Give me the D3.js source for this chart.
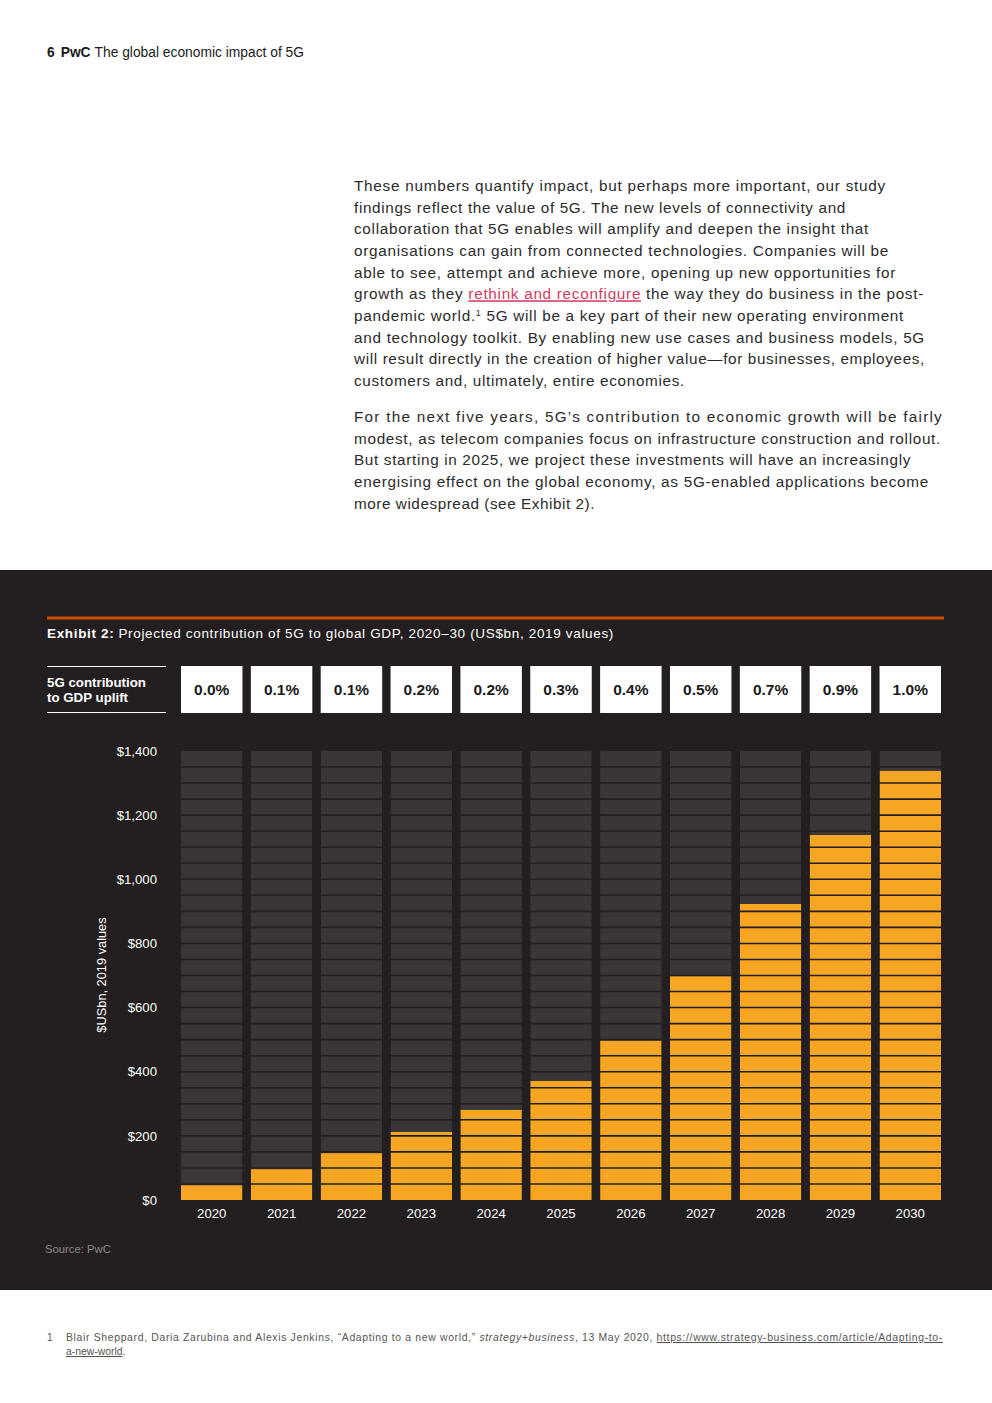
<!DOCTYPE html>
<html>
<head>
<meta charset="utf-8">
<script src="https://cdn.jsdelivr.net/npm/d3@7"></script>
<style>
  body { margin: 0; background: #fff; }
  svg { display: block; font-family: "Liberation Sans", Arial, sans-serif; }
</style>
</head>
<body>
<svg id="page" width="992" height="1403"></svg>
<script>
// chart data
const years = ["2020", "2021", "2022", "2023", "2024", "2025", "2026", "2027", "2028", "2029", "2030"];
const gdpValues = [46, 96, 146, 212, 281, 371, 497, 698, 923, 1138, 1338];
const upliftPct = ["0.0%", "0.1%", "0.1%", "0.2%", "0.2%", "0.3%", "0.4%", "0.5%", "0.7%", "0.9%", "1.0%"];
const yTicks = [0, 200, 400, 600, 800, 1000, 1200, 1400];

// body copy, one entry per printed line; target right edge of each line
const para1 = [
  ["These numbers quantify impact, but perhaps more important, our study", 886],
  ["findings reflect the value of 5G. The new levels of connectivity and", 846],
  ["collaboration that 5G enables will amplify and deepen the insight that", 869],
  ["organisations can gain from connected technologies. Companies will be", 889],
  ["able to see, attempt and achieve more, opening up new opportunities for", 896],
  ["growth as they |rethink and reconfigure| the way they do business in the post-", 924],
  ["pandemic world.^1^ 5G will be a key part of their new operating environment", 904],
  ["and technology toolkit. By enabling new use cases and business models, 5G", 925],
  ["will result directly in the creation of higher value\u2014for businesses, employees,", 925],
  ["customers and, ultimately, entire economies.", 685]
];
const para2 = [
  ["For the next five years, 5G\u2019s contribution to economic growth will be fairly", 943],
  ["modest, as telecom companies focus on infrastructure construction and rollout.", 941],
  ["But starting in 2025, we project these investments will have an increasingly", 911],
  ["energising effect on the global economy, as 5G-enabled applications become", 929],
  ["more widespread (see Exhibit 2).", 595]
];

const svg = d3.select("#page");
const panelColor = "#231f20";
const barBack = "#3a3637";
const barFill = "#f6a623";

// stretch a text element so it ends at xEnd
function fitTo(sel, x0, xEnd) {
  const natural = sel.node().getComputedTextLength();
  const n = sel.text().length;
  sel.attr("letter-spacing", ((xEnd - x0 - natural) / n).toFixed(3));
}

// ---- header
const head = svg.append("text").attr("x", 47).attr("y", 57)
  .attr("font-size", 13.8).attr("fill", "#1a1a1a");
head.append("tspan").attr("font-weight", "bold").text("6");
head.append("tspan").attr("dx", 6).attr("font-weight", "bold").text("PwC");
head.append("tspan").attr("dx", 4).text("The global economic impact of 5G");

// ---- body text
function writeLines(lines, y0) {
  lines.forEach((ln, i) => {
    const t = svg.append("text").attr("x", 354).attr("y", y0 + i * 21.65)
      .attr("font-size", 15.3).attr("fill", "#2b2b2b");
    // split link (|..|) and superscript (^..^) parts
    const parts = ln[0].split(/(\|[^|]*\||\^[^^]*\^)/).filter(s => s.length);
    parts.forEach(p => {
      if (p[0] === "|") {
        t.append("tspan").attr("fill", "#d23c62").attr("text-decoration", "underline")
          .text(p.slice(1, -1));
      } else if (p[0] === "^") {
        t.append("tspan").attr("font-size", 9).attr("baseline-shift", "super").text(p.slice(1, -1));
      } else {
        t.append("tspan").text(p);
      }
    });
    fitTo(t, 354, ln[1]);
  });
}
writeLines(para1, 191);
writeLines(para2, 422);

// ---- dark panel
svg.append("rect").attr("x", 0).attr("y", 570).attr("width", 992).attr("height", 720)
  .attr("fill", panelColor);
svg.append("rect").attr("x", 47).attr("y", 616.5).attr("width", 897).attr("height", 3)
  .attr("fill", "#d04a02");

const title = svg.append("text").attr("x", 47).attr("y", 638)
  .attr("font-size", 13.5).attr("fill", "#fff");
title.append("tspan").attr("font-weight", "bold").text("Exhibit 2:");
title.append("tspan").attr("dx", 4)
  .text("Projected contribution of 5G to global GDP, 2020\u201330 (US$bn, 2019 values)");
fitTo(title, 51, 614);

// ---- scales
const x = d3.scaleBand().domain(years).range([181, 941]).paddingInner(0.12).paddingOuter(0);
const y = d3.scaleLinear().domain([0, 1400]).range([1200, 751]);

// ---- uplift row
svg.append("line").attr("x1", 47).attr("x2", 166).attr("y1", 666.5).attr("y2", 666.5)
  .attr("stroke", "#fff").attr("stroke-width", 1);
svg.append("line").attr("x1", 47).attr("x2", 166).attr("y1", 712.5).attr("y2", 712.5)
  .attr("stroke", "#fff").attr("stroke-width", 1);
const lab = svg.append("text").attr("font-size", 13.3).attr("font-weight", "bold").attr("fill", "#fff");
lab.append("tspan").attr("x", 47).attr("y", 687).text("5G contribution");
lab.append("tspan").attr("x", 47).attr("y", 702).text("to GDP uplift");

const boxes = svg.append("g").selectAll("g").data(years).join("g")
  .attr("transform", d => `translate(${x(d)},666)`);
boxes.append("rect").attr("width", x.bandwidth()).attr("height", 47).attr("fill", "#fff");
boxes.append("text").attr("x", x.bandwidth() / 2).attr("y", 29)
  .attr("text-anchor", "middle").attr("font-size", 15.5).attr("font-weight", "bold")
  .attr("fill", "#1a1a1a").text((d, i) => upliftPct[i]);

// ---- bars
const bars = svg.append("g");
bars.selectAll(".back").data(years).join("rect").attr("class", "back")
  .attr("x", d => x(d)).attr("width", x.bandwidth())
  .attr("y", y(1400)).attr("height", y(0) - y(1400)).attr("fill", barBack);
bars.selectAll(".val").data(years).join("rect").attr("class", "val")
  .attr("x", d => x(d)).attr("width", x.bandwidth())
  .attr("y", (d, i) => y(gdpValues[i])).attr("height", (d, i) => y(0) - y(gdpValues[i]))
  .attr("fill", barFill);
const steps = d3.range(50, 1400, 50);
bars.selectAll(".div").data(steps).join("line").attr("class", "div")
  .attr("x1", 181).attr("x2", 941)
  .attr("y1", d => y(d)).attr("y2", d => y(d))
  .attr("stroke", panelColor).attr("stroke-width", 1.6);
// re-open the gaps between columns (dividers run across)
bars.selectAll(".gap").data(years.slice(1)).join("rect").attr("class", "gap")
  .attr("x", d => x(d) - (x.step() - x.bandwidth())).attr("width", x.step() - x.bandwidth())
  .attr("y", y(1400)).attr("height", y(0) - y(1400)).attr("fill", panelColor);

// ---- axes
const yAxis = svg.append("g").attr("transform", "translate(181,0)")
  .call(d3.axisLeft(y).tickValues(yTicks).tickSize(0).tickPadding(24)
    .tickFormat(d => "$" + d3.format(",")(d)));
yAxis.select(".domain").remove();
yAxis.selectAll("text").attr("fill", "#fff").attr("font-size", 13.2)
  .attr("font-family", "Liberation Sans, Arial, sans-serif");

const xAxis = svg.append("g").attr("transform", "translate(0,1200)")
  .call(d3.axisBottom(x).tickSize(0).tickPadding(9));
xAxis.select(".domain").remove();
xAxis.selectAll("text").attr("fill", "#fff").attr("font-size", 13.2)
  .attr("font-family", "Liberation Sans, Arial, sans-serif");

svg.append("text").attr("transform", "translate(106,975) rotate(-90)")
  .attr("text-anchor", "middle").attr("font-size", 12.8).attr("fill", "#fff")
  .text("$USbn, 2019 values");

svg.append("text").attr("x", 45).attr("y", 1253).attr("font-size", 11.3)
  .attr("fill", "#8c8a8a").text("Source: PwC");

// ---- footnote
svg.append("text").attr("x", 47).attr("y", 1341).attr("font-size", 10.2).attr("fill", "#555").text("1");
const fn1 = svg.append("text").attr("x", 66).attr("y", 1341).attr("font-size", 10.4).attr("fill", "#555");
fn1.append("tspan").text("Blair Sheppard, Daria Zarubina and Alexis Jenkins, \u201cAdapting to a new world,\u201d ");
fn1.append("tspan").attr("font-style", "italic").text("strategy+business");
fn1.append("tspan").text(", 13 May 2020, ");
fn1.append("tspan").attr("text-decoration", "underline")
  .text("https://www.strategy-business.com/article/Adapting-to-");
fitTo(fn1, 66, 943);
const fn2 = svg.append("text").attr("x", 66).attr("y", 1355).attr("font-size", 10.4).attr("fill", "#555");
fn2.append("tspan").attr("text-decoration", "underline").text("a-new-world");
fn2.append("tspan").text(".");
</script>
</body>
</html>
